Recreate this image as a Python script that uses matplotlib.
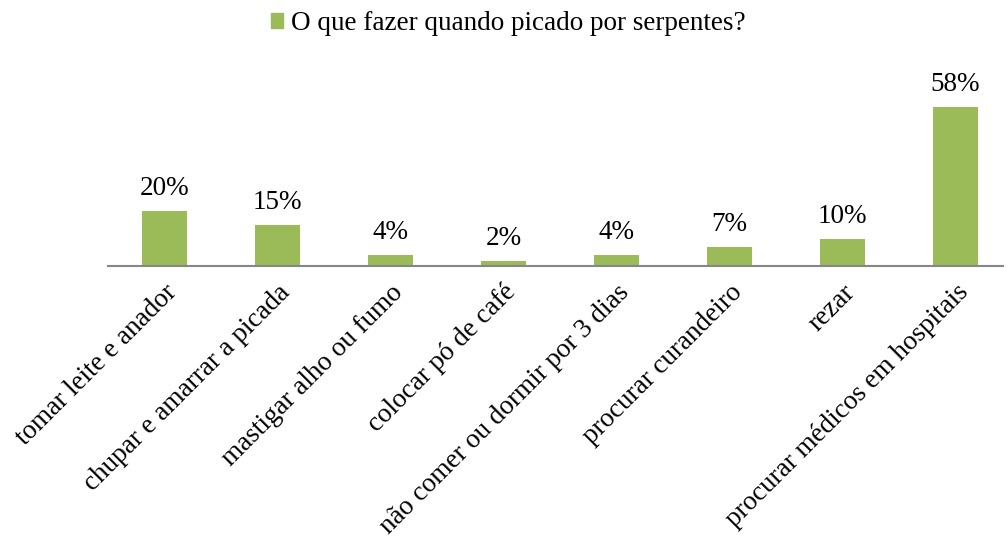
import matplotlib
matplotlib.use("Agg")
import matplotlib.pyplot as plt
from matplotlib.patches import Patch

categories = ["tomar leite e anador", "chupar e amarrar a picada", "mastigar alho ou fumo",
              "colocar pó de café", "não comer ou dormir por 3 dias", "procurar curandeiro",
              "rezar", "procurar médicos em hospitais"]
values = [20, 15, 4, 2, 4, 7, 10, 58]
series_name = "O que fazer quando picado por serpentes?"

plt.rcParams['font.family'] = ['Liberation Serif', 'DejaVu Serif']
W, H = 1006, 538
fig = plt.figure(figsize=(W/100, H/100), dpi=100)
ax_left, ax_right = 108, 1003
ax_bottom, ax_top = 266, 60
ax = fig.add_axes([ax_left/W, (H-ax_bottom)/H, (ax_right-ax_left)/W, (ax_bottom-ax_top)/H])
color = "#9BBB59"
x = list(range(len(values)))
bars = ax.bar(x, values, width=0.4, color=color)
ax.set_xlim(-0.5, -0.5 + (ax_right-ax_left)/113)
ax.set_ylim(0, (ax_bottom-ax_top)/2.74)
fs = 19.5
for xi, v in zip(x, values):
    ax.annotate(f"{v}%", (xi, v), xytext=(0, 7), textcoords="offset points",
                ha="center", va="bottom", fontsize=fs)
for s in ["top", "right", "left"]:
    ax.spines[s].set_visible(False)
ax.spines["bottom"].set_color("#868686")
ax.spines["bottom"].set_linewidth(1.5)
ax.set_yticks([])
ax.set_xticks(x)
ax.set_xticklabels(categories, rotation=45, ha="right", rotation_mode="anchor", fontsize=fs)
ax.tick_params(axis="x", length=0, pad=10)
fig.legend(handles=[Patch(color=color, label=series_name)], loc="upper center",
           bbox_to_anchor=(0.505, 1.025), frameon=False, fontsize=fs,
           handlelength=0.45, handleheight=0.45, handletextpad=0.3)
fig.savefig("out.png", dpi=100)
